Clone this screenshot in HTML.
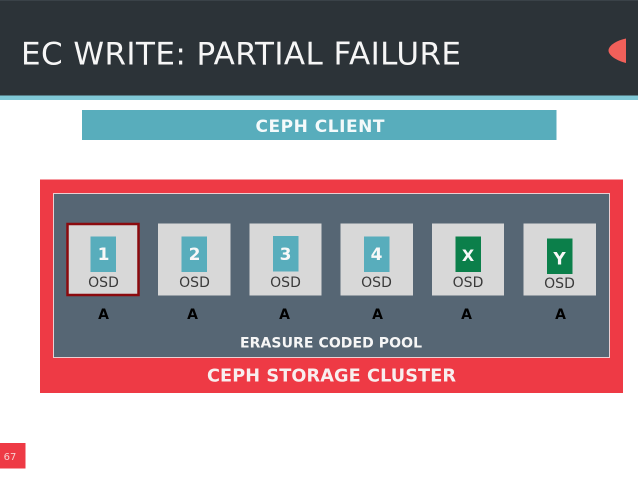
<!DOCTYPE html>
<html><head><meta charset="utf-8"><style>
html,body{margin:0;padding:0;background:#fff;width:638px;height:479px;overflow:hidden}
svg{display:block}
text{font-family:"DejaVu Sans",sans-serif}
</style></head><body>
<svg width="638" height="479" viewBox="0 0 638 479" xmlns="http://www.w3.org/2000/svg">
<rect x="0" y="0" width="638" height="479" fill="#fff"/>
<rect x="0" y="0" width="638" height="95.5" fill="#2c3338"/>
<rect x="0" y="0" width="638" height="1" fill="#3a4248"/>
<rect x="0" y="95.5" width="638" height="4.5" fill="#80c8d6"/>
<text x="21" y="64.5" font-size="31" fill="#f6f6f6" textLength="440" lengthAdjust="spacing">EC WRITE: PARTIAL FAILURE</text>
<path d="M626 38.5 L626 63 C618 61 608.5 56 608.5 50.5 C608.5 45 618 40 626 38.5Z" fill="#f0605a"/>
<rect x="82" y="110" width="474.5" height="30" fill="#58adbc"/>
<text x="255.5" y="132" font-size="17" font-weight="bold" fill="#f4fafb" textLength="129" lengthAdjust="spacing">CEPH CLIENT</text>
<rect x="40" y="179.5" width="583" height="213.5" fill="#ee3a45"/>
<rect x="53.5" y="193.5" width="556" height="164" fill="#566674" stroke="#eccfd2" stroke-width="1"/>
<rect x="67.5" y="224" width="71" height="71" fill="#d8d8d8" stroke="#8b0a0e" stroke-width="2.5"/>
<rect x="158" y="223.5" width="72.5" height="72" fill="#d8d8d8"/>
<rect x="249.5" y="223.5" width="72" height="72" fill="#d8d8d8"/>
<rect x="340.5" y="223.5" width="72.5" height="72" fill="#d8d8d8"/>
<rect x="432" y="223.5" width="72" height="72" fill="#d8d8d8"/>
<rect x="523.5" y="223.5" width="72.5" height="72" fill="#d8d8d8"/>
<rect x="90.5" y="236.5" width="25.5" height="35.5" fill="#58adbc"/>
<rect x="181.5" y="236.5" width="25.5" height="35.5" fill="#58adbc"/>
<rect x="273" y="236" width="25.5" height="35.5" fill="#58adbc"/>
<rect x="364" y="236.5" width="25.5" height="35.5" fill="#58adbc"/>
<rect x="455.5" y="236.5" width="25.5" height="35.5" fill="#0b7f4a"/>
<rect x="547" y="238.5" width="25.5" height="35.5" fill="#0b7f4a"/>
<g font-size="17" font-weight="bold" fill="#f8f8f8" text-anchor="middle">
<text x="103.5" y="260">1</text>
<text x="194.5" y="260">2</text>
<text x="285.5" y="260">3</text>
<text x="376.5" y="260">4</text>
<text x="468" y="261" font-size="16">X</text>
<text x="559.5" y="264.5">Y</text>
</g>
<g font-size="14" fill="#3a3a3a" text-anchor="middle">
<text x="103.5" y="287">OSD</text>
<text x="194.5" y="287">OSD</text>
<text x="285.5" y="287">OSD</text>
<text x="376.5" y="287">OSD</text>
<text x="468" y="287">OSD</text>
<text x="559.5" y="288">OSD</text>
</g>
<g font-size="14" font-weight="bold" fill="#000" text-anchor="middle">
<text x="103.5" y="319">A</text>
<text x="192.5" y="319">A</text>
<text x="284.5" y="319">A</text>
<text x="377.5" y="319">A</text>
<text x="466.5" y="319">A</text>
<text x="560.5" y="319">A</text>
</g>
<text x="240" y="347.5" font-size="14" font-weight="bold" fill="#f6f6f6" textLength="182" lengthAdjust="spacing">ERASURE CODED POOL</text>
<text x="207" y="381.5" font-size="17.7" font-weight="bold" fill="#f8eeee" textLength="249" lengthAdjust="spacing">CEPH STORAGE CLUSTER</text>
<rect x="0" y="443" width="25.5" height="25.5" fill="#ee3a45"/>
<text x="10" y="460" font-size="10" fill="#f6d0d0" text-anchor="middle">67</text>
</svg>
</body></html>
